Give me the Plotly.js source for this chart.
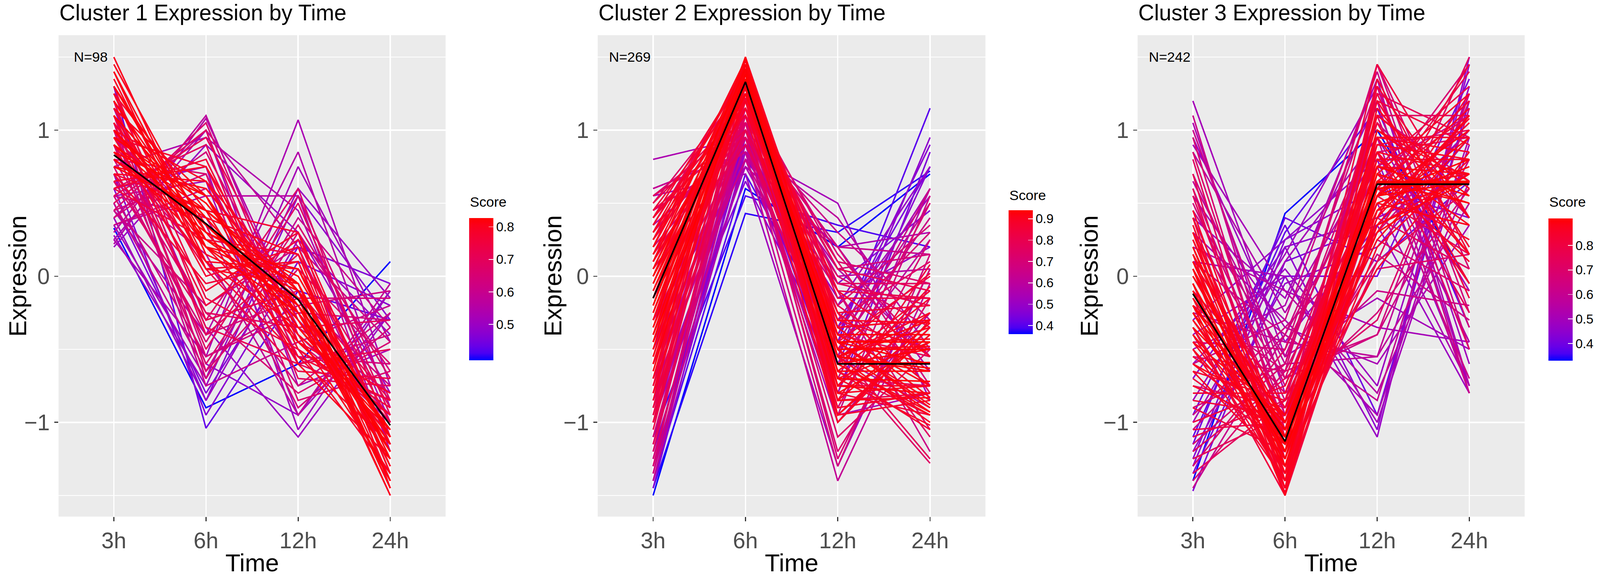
<!DOCTYPE html>
<html>
<head>
<meta charset="utf-8">
<script src="https://cdn.plot.ly/plotly-3.0.1.min.js"></script>
<style>html,body{margin:0;padding:0;background:#fff;overflow:hidden;}#chart{width:100vw;height:100vh;}</style>
</head>
<body>
<div id="chart"></div>
<script>
// ---------------- DATA ----------------
const times = ['3h', '6h', '12h', '24h'];
const clusterTitles = ['Cluster 1 Expression by Time', 'Cluster 2 Expression by Time', 'Cluster 3 Expression by Time'];
const clusterCounts = [98, 269, 242];

const c1_center = [0.83, 0.36, -0.16, -1.02];
const c1_expr = [
  [1.50, 0.15, -0.15, -1.50], [1.40, 0.20, -0.10, -1.45], [1.30, 0.25, -0.20, -1.40], [1.20, 0.30, -0.05, -1.45],
  [1.10, 0.40, -0.30, -1.25], [1.00, 0.35, -0.15, -1.20], [0.95, 0.50, -0.25, -1.20], [0.90, 0.45, -0.05, -1.30],
  [0.85, 0.55, -0.35, -1.05], [0.80, 0.30, 0.00, -1.10], [0.75, 0.60, -0.20, -1.15], [0.70, 0.65, -0.40, -0.95],
  [1.25, 0.05, 0.10, -1.40], [1.15, 0.00, 0.20, -1.35], [0.65, 0.75, -0.30, -1.10], [0.60, 0.80, -0.50, -0.90],
  [1.35, 0.10, -0.35, -1.10], [1.05, 0.20, -0.45, -0.80], [0.90, 0.10, -0.55, -0.85], [0.95, -0.10, 0.30, -1.15],
  [1.10, -0.20, 0.25, -1.15], [0.70, 0.45, 0.30, -1.45], [1.45, 0.30, -0.40, -1.35], [1.00, 0.65, -0.10, -1.50],
  [0.85, 0.20, 0.05, -1.10],
  [0.55, 0.95, -0.25, -1.00], [0.50, 1.00, -0.60, -0.85], [0.45, 1.05, -0.45, -0.95], [0.60, 0.90, -0.70, -0.75],
  [0.40, 0.85, -0.35, -0.80], [1.20, -0.40, 0.15, -0.90], [1.00, -0.50, 0.50, -0.95], [0.90, -0.60, 0.35, -0.70],
  [1.30, -0.30, -0.10, -0.85], [0.75, -0.45, 0.55, -0.85], [0.65, -0.30, 0.60, -1.10], [0.85, 0.10, -0.75, -0.25],
  [0.95, 0.35, -0.90, -0.35], [0.55, 0.40, -0.60, -0.40], [0.45, -0.20, 0.20, -0.45], [1.10, -0.55, -0.25, -0.30],
  [0.35, 0.60, -0.15, -0.75], [0.50, -0.65, 0.40, -0.35],
  [0.30, 1.10, -0.40, -1.00], [0.22, 1.08, -0.30, -0.95], [0.40, 1.00, 0.20, -1.15], [0.25, -0.55, 1.07, -0.75],
  [0.45, -0.40, 0.85, -0.90], [0.35, -0.70, 0.75, -0.45], [0.28, -0.75, 0.60, -0.15], [0.60, -0.85, 0.55, -0.30],
  [0.90, -0.60, -0.95, -0.10], [1.15, -0.35, -1.10, -0.25], [0.55, 0.65, -0.95, -0.25], [0.33, -0.90, -0.60, 0.10],
  [1.30, -1.04, -0.10, -0.30], [0.75, 0.95, 0.45, -1.00], [0.20, 0.90, 0.30, -0.80], [0.50, -0.80, 0.20, -0.05],
  [0.60, 0.75, -1.05, -0.10],
  [1.05, -0.35, -0.60, -0.50], [0.80, -0.25, -0.80, -0.45], [1.25, -0.15, -0.50, -0.95], [1.00, 0.05, -0.65, -0.70],
  [0.70, -0.05, 0.10, -1.30], [1.15, 0.55, -0.60, -1.25], [0.95, 0.75, -0.50, -1.35], [0.60, 0.25, 0.15, -1.00],
  [1.20, 0.20, -0.25, -1.15], [1.00, 0.25, -0.05, -1.20], [0.90, 0.35, -0.20, -1.05], [1.30, 0.35, -0.25, -1.40],
  [0.75, 0.45, -0.10, -1.10], [1.40, 0.05, -0.05, -1.40], [0.95, 0.55, -0.45, -1.05], [1.10, 0.10, 0.05, -1.25],
  [0.80, 0.40, 0.15, -1.35], [1.25, 0.45, -0.55, -1.15],
  [0.90, -0.25, -0.35, -0.30], [0.70, -0.40, -0.15, -0.15], [1.20, -0.65, 0.05, -0.60], [0.55, -0.55, -0.20, -0.10],
  [0.80, 0.70, -0.85, -0.65], [0.45, 0.70, -0.55, -0.60], [1.05, -0.70, 0.30, -0.65], [0.65, 0.15, -0.95, -0.05],
  [1.00, -0.75, -0.45, -0.20],
  [0.40, -0.85, 0.25, -0.40], [0.25, 1.00, -0.75, -0.50], [0.70, -0.95, 0.10, -0.20], [0.35, 0.55, 0.55, -1.20]
];
const c1_score = [
  0.80, 0.81, 0.82, 0.80, 0.82, 0.827, 0.82, 0.81, 0.82, 0.82, 0.80, 0.79, 0.78, 0.77, 0.78, 0.76, 0.79, 0.78, 0.76, 0.77,
  0.75, 0.77, 0.80, 0.79, 0.81,
  0.70, 0.68, 0.66, 0.69, 0.64, 0.70, 0.68, 0.66, 0.72, 0.65, 0.67, 0.63, 0.64, 0.62, 0.61, 0.63, 0.62, 0.60,
  0.57, 0.55, 0.58, 0.53, 0.55, 0.52, 0.50, 0.48, 0.49, 0.50, 0.52, 0.39, 0.43, 0.54, 0.50, 0.46, 0.51,
  0.71, 0.65, 0.74, 0.73, 0.76, 0.80, 0.77, 0.74,
  0.82, 0.82, 0.827, 0.81, 0.82, 0.80, 0.81, 0.80, 0.79, 0.78,
  0.69, 0.64, 0.66, 0.62, 0.66, 0.63, 0.64, 0.58, 0.60,
  0.50, 0.53, 0.47, 0.56
];

const c2_center = [-0.15, 1.33, -0.60, -0.60];
const c2_expr = [
  [-0.15, 1.34, -0.60, -0.59], [0.10, 1.45, -0.75, -0.80], [-0.40, 1.40, -0.50, -0.50], [0.30, 1.25, -0.80, -0.75],
  [-0.60, 1.48, -0.45, -0.43], [-0.85, 1.50, -0.35, -0.30], [0.05, 1.30, -0.45, -0.90], [-0.25, 1.42, -0.85, -0.32],
  [-0.30, 1.20, -0.55, -0.35], [0.20, 1.35, -0.55, -1.00], [-0.05, 1.40, -0.95, -0.40], [-1.00, 1.45, -0.25, -0.20],
  [0.40, 1.10, -0.75, -0.75], [-0.50, 1.30, -0.65, -0.15], [-0.70, 1.35, -0.10, -0.55], [0.15, 1.20, -1.00, -0.35],
  [-0.20, 1.50, -0.65, -0.65], [-0.10, 1.25, -0.40, -0.75], [0.25, 1.45, -0.65, -1.05], [-0.45, 1.45, -0.75, -0.25],
  [-0.35, 1.15, -0.30, -0.50], [0.00, 1.15, -0.70, -0.45], [-0.55, 1.40, -0.55, -0.30], [0.15, 1.40, -0.60, -0.95],
  [-0.75, 1.45, -0.60, -0.10], [0.35, 1.35, -0.90, -0.80], [-0.15, 1.48, -0.45, -0.88], [-0.95, 1.40, -0.45, 0.00],
  [0.45, 1.30, -0.80, -0.95], [-0.30, 1.30, -0.25, -0.75],
  [-1.20, 1.30, -0.05, -0.05], [-1.30, 1.25, 0.10, -0.05], [0.45, 1.00, -0.70, -0.75], [0.55, 0.95, -0.75, -0.75],
  [-0.90, 1.10, -0.30, 0.10], [-1.10, 1.15, -0.35, 0.30], [0.30, 1.05, -1.20, -0.15], [0.20, 0.95, -1.30, 0.15],
  [-0.60, 0.95, 0.00, -0.35], [-0.15, 1.00, -0.20, -0.65], [0.35, 1.40, -0.50, -1.25], [0.50, 1.30, -0.55, -1.28],
  [-0.80, 1.20, 0.15, -0.55], [-0.50, 1.05, 0.20, -0.75], [-1.40, 1.05, 0.20, 0.15], [0.60, 0.85, -1.40, -0.05],
  [-0.95, 0.90, -0.45, 0.50], [-0.70, 0.80, -0.50, 0.40], [0.05, 0.90, -0.40, -0.55],
  [0.80, 0.95, -0.95, -0.80], [-1.50, 0.60, 0.20, 0.70], [-1.45, 0.43, 0.30, 0.72], [-1.40, 0.70, -0.45, 1.15],
  [-1.30, 0.90, -0.35, 0.75], [-1.20, 0.80, -0.05, 0.45], [-1.35, 0.95, -0.55, 0.95], [-1.10, 0.55, 0.35, 0.20],
  [-0.90, 0.85, -0.15, 0.20], [-1.25, 1.00, -0.30, 0.55], [-0.50, 0.85, 0.50, -0.85], [-1.00, 0.75, -0.40, 0.60],
  [-0.45, 0.95, 0.05, -0.55], [-0.70, 1.05, -0.60, 0.25], [-1.15, 1.10, 0.00, 0.05], [0.35, 0.90, -1.00, -0.25],
  [-1.00, 0.95, -0.80, 0.85], [-0.30, 0.75, 0.20, -0.65], [-0.85, 0.65, -0.60, 0.75],
  [-0.65, 1.45, -0.40, -0.40], [-0.45, 1.35, -0.45, -0.45], [0.00, 1.42, -0.70, -0.72], [-0.20, 1.38, -0.55, -0.63],
  [-0.35, 1.45, -0.60, -0.50], [0.20, 1.48, -0.85, -0.83], [-0.80, 1.42, -0.30, -0.32], [-0.10, 1.35, -0.80, -0.45],
  [-0.25, 1.30, -0.45, -0.60], [0.25, 1.28, -0.60, -0.93], [-0.50, 1.48, -0.50, -0.48], [-0.05, 1.25, -0.55, -0.65],
  [0.40, 1.40, -0.95, -0.85], [-0.90, 1.38, -0.50, 0.02], [-0.60, 1.25, -0.35, -0.30], [-0.40, 1.22, -0.75, -0.07],
  [0.10, 1.20, -0.45, -0.85], [-0.15, 1.45, -1.00, -0.30], [-0.30, 1.48, -0.35, -0.83], [0.05, 1.38, -0.50, -0.93],
  [-0.70, 1.50, -0.55, -0.25], [0.30, 1.42, -0.70, -1.02], [-1.05, 1.35, -0.15, -0.15], [-0.55, 1.32, -0.85, 0.08],
  [0.00, 1.30, -0.95, -0.35],
  [-1.15, 1.20, 0.05, -0.10], [-1.00, 1.25, -0.10, -0.15], [0.50, 1.15, -0.85, -0.80], [0.40, 1.20, -0.65, -0.95],
  [-0.75, 1.00, -0.05, -0.20], [-0.40, 1.10, 0.10, -0.80], [0.25, 1.10, -0.25, -1.10], [0.15, 1.00, -0.10, -1.05],
  [-1.25, 1.10, -0.20, 0.35], [-0.85, 1.05, -0.70, 0.50], [0.55, 1.05, -1.10, -0.50], [-0.30, 0.95, -0.90, 0.25],
  [-1.35, 1.15, 0.05, 0.15], [-0.60, 1.00, -0.95, 0.55], [0.45, 0.85, -0.10, -1.20], [-1.00, 1.00, 0.30, -0.30],
  [0.10, 1.10, -1.25, 0.05], [-1.10, 1.05, -0.55, 0.60],
  [-1.30, 0.80, 0.20, 0.30], [-0.80, 0.90, 0.40, -0.50], [-0.60, 0.80, -0.80, 0.60], [0.60, 0.85, -0.55, -0.90],
  [-1.40, 0.85, -0.20, 0.75], [-1.45, 0.95, -0.40, 0.90], [0.55, 0.70, -1.30, 0.05]
];
const c2_score = [
  0.94, 0.92, 0.93, 0.90, 0.91, 0.88, 0.92, 0.91, 0.90, 0.89, 0.90, 0.85, 0.86, 0.87, 0.86, 0.88, 0.93, 0.91, 0.87, 0.89,
  0.85, 0.89, 0.92, 0.91, 0.86, 0.88, 0.90, 0.83, 0.85, 0.88,
  0.75, 0.72, 0.78, 0.76, 0.74, 0.70, 0.72, 0.68, 0.73, 0.80, 0.77, 0.74, 0.71, 0.69, 0.64, 0.62, 0.62, 0.66, 0.78,
  0.55, 0.36, 0.37, 0.40, 0.44, 0.46, 0.48, 0.39, 0.50, 0.52, 0.53, 0.55, 0.58, 0.60, 0.58, 0.57, 0.45, 0.56, 0.47,
  0.93, 0.94, 0.935, 0.94, 0.93, 0.91, 0.90, 0.92, 0.93, 0.90, 0.92, 0.93, 0.87, 0.84, 0.90, 0.86, 0.90, 0.88, 0.90, 0.91,
  0.89, 0.88, 0.82, 0.83, 0.88,
  0.78, 0.80, 0.80, 0.82, 0.76, 0.75, 0.74, 0.72, 0.70, 0.71, 0.73, 0.70, 0.69, 0.67, 0.66, 0.65, 0.70, 0.66,
  0.55, 0.60, 0.58, 0.62, 0.50, 0.47, 0.52
];

const c3_center = [-0.12, -1.13, 0.63, 0.63];
const c3_expr = [
  [-0.12, -1.14, 0.64, 0.64], [0.10, -1.30, 0.70, 0.50], [-0.35, -1.00, 0.55, 0.80], [0.30, -1.40, 0.45, 0.65],
  [-0.60, -0.95, 0.85, 0.70], [-0.20, -1.45, 1.00, 0.65], [0.20, -1.20, 0.30, 0.70], [-0.45, -1.25, 0.90, 0.80],
  [-0.80, -0.80, 0.80, 0.80], [0.05, -1.50, 0.75, 0.70], [-0.30, -1.10, 1.20, 0.20], [-0.15, -1.05, 0.25, 0.95],
  [-1.00, -0.75, 0.65, 1.10], [0.35, -1.35, 0.20, 0.80], [-0.05, -1.45, 1.35, 0.15], [-0.55, -1.00, 0.30, 1.25],
  [-0.25, -1.30, 0.55, 1.00], [0.00, -1.10, 0.95, 0.15], [-0.70, -1.15, 1.45, 0.40], [-0.40, -1.40, 0.60, 1.20],
  [0.15, -1.00, 0.50, 0.35], [-1.05, -1.00, 0.75, 1.30], [-0.90, -1.20, 1.20, 0.90], [0.25, -1.15, 0.05, 0.85],
  [-0.35, -1.50, 0.40, 1.45], [0.45, -1.30, 0.60, 0.25], [-0.65, -1.30, 0.70, 1.25], [0.10, -0.90, 0.85, -0.05],
  [-0.50, -1.20, 1.10, 0.60], [-0.10, -1.35, 0.35, 1.10],
  [0.80, -1.25, 0.40, 0.05], [0.95, -1.10, 0.25, -0.10], [0.60, -1.30, 0.10, 0.60], [1.10, -0.95, 0.15, -0.30],
  [-1.20, -0.70, 0.90, 1.00], [-1.30, -0.50, 0.85, 0.95], [-1.15, -0.60, 1.10, 0.65], [-0.45, -0.50, 1.30, -0.35],
  [-0.60, -0.30, 1.40, -0.50], [-0.20, -0.65, -0.40, 1.25], [0.10, -0.40, -0.85, 1.15], [-0.75, -0.90, 0.10, 1.50],
  [0.50, -0.85, -0.25, 0.60], [-0.95, -0.35, 0.30, 1.00], [0.70, -0.75, 0.75, -0.70], [0.40, -1.00, 1.10, -0.50],
  [-1.35, -0.85, 1.10, 1.10], [0.65, -0.60, -0.55, 0.50], [-1.45, -0.40, 0.75, 1.10],
  [1.20, -0.55, -0.15, -0.50], [1.05, -0.80, 0.50, -0.75], [0.95, -0.45, 0.35, -0.80], [-1.47, 0.10, 0.35, 1.00],
  [-1.40, 0.43, 1.00, -0.05], [-1.10, 0.30, 1.15, -0.35], [-0.70, 0.20, -1.05, 1.50], [-0.40, 0.00, -1.10, 1.45],
  [-0.95, 0.35, -0.95, 1.20], [0.20, -0.10, -0.80, 0.65], [-1.25, 0.25, 0.60, 0.40], [-0.85, 0.15, 1.30, -0.60],
  [-0.50, -0.20, 1.35, -0.75], [0.55, -0.35, -0.60, 0.35], [-1.20, -0.05, 0.20, 0.95], [-1.00, 0.10, 0.95, -0.10],
  [0.30, -0.30, -0.95, 0.95], [-1.35, 0.00, 0.00, 1.35], [0.85, -0.25, 0.85, -0.45],
  [-0.05, -1.20, 0.60, 0.65], [-0.25, -1.05, 0.65, 0.65], [0.05, -1.25, 0.55, 0.65], [-0.20, -1.10, 0.75, 0.55],
  [-0.10, -1.15, 0.50, 0.75], [0.20, -1.35, 0.80, 0.35], [-0.45, -0.95, 0.45, 0.95], [0.25, -1.25, 0.85, 0.15],
  [-0.60, -1.10, 0.55, 1.15], [0.15, -1.45, 0.60, 0.70], [-0.30, -1.20, 0.40, 1.10], [-0.15, -1.40, 1.15, 0.40],
  [0.00, -1.00, 0.35, 0.65], [-0.40, -1.15, 1.00, 0.55], [0.40, -1.45, 0.35, 0.70], [-0.75, -1.05, 0.95, 0.85],
  [-0.20, -0.95, 0.65, 0.50], [0.10, -1.20, 1.25, -0.15], [-0.50, -1.40, 0.95, 0.95], [-0.85, -0.95, 0.60, 1.20],
  [0.30, -1.10, 0.70, 0.10], [-0.35, -1.35, 1.30, 0.40], [-0.05, -1.48, 0.45, 1.08], [-0.65, -0.85, 0.45, 1.05],
  [0.05, -1.05, 1.05, -0.05],
  [0.70, -1.40, 0.55, 0.15], [0.55, -1.15, 0.85, -0.25], [-1.10, -0.85, 0.55, 1.40], [-1.25, -0.95, 1.25, 0.95],
  [0.85, -1.05, 0.05, 0.15], [-0.90, -0.60, 1.45, 0.05], [-0.10, -0.80, -0.30, 1.20], [0.30, -0.70, -0.40, 0.80],
  [-1.40, -0.65, 0.60, 1.45], [0.45, -0.55, 0.95, -0.80], [-0.25, -0.45, -0.55, 1.25], [1.00, -0.70, -0.10, -0.20],
  [-0.55, -0.65, 1.45, -0.25], [-1.05, -0.40, 1.05, 0.40], [0.60, -0.95, 1.20, -0.80],
  [0.90, -0.10, -0.35, -0.45], [-0.60, 0.05, -0.75, 1.30], [-1.15, 0.40, 0.10, 0.65], [0.40, -0.15, 1.20, -0.75],
  [-0.30, 0.25, 0.80, -0.75], [0.10, 0.00, -1.00, 0.90], [-1.30, 0.20, 0.40, 0.70]
];
const c3_score = [
  0.91, 0.90, 0.90, 0.88, 0.87, 0.86, 0.89, 0.86, 0.84, 0.88, 0.84, 0.87, 0.80, 0.85, 0.82, 0.82, 0.89, 0.86, 0.80, 0.83,
  0.88, 0.78, 0.80, 0.84, 0.81, 0.85, 0.85, 0.83, 0.87, 0.86,
  0.72, 0.68, 0.74, 0.62, 0.74, 0.70, 0.68, 0.66, 0.63, 0.65, 0.60, 0.72, 0.66, 0.64, 0.62, 0.70, 0.73, 0.58, 0.61,
  0.50, 0.52, 0.48, 0.42, 0.33, 0.38, 0.45, 0.47, 0.40, 0.55, 0.44, 0.49, 0.53, 0.51, 0.46, 0.50, 0.52, 0.41, 0.54,
  0.91, 0.905, 0.90, 0.91, 0.90, 0.88, 0.88, 0.86, 0.86, 0.87, 0.88, 0.87, 0.89, 0.89, 0.84, 0.85, 0.89, 0.80, 0.84, 0.82,
  0.85, 0.82, 0.84, 0.84, 0.82,
  0.76, 0.74, 0.76, 0.74, 0.70, 0.68, 0.70, 0.64, 0.68, 0.60, 0.58, 0.62, 0.66, 0.64, 0.62,
  0.50, 0.48, 0.40, 0.50, 0.46, 0.50, 0.45
];

const scoreTicks = [[0.5, 0.6, 0.7, 0.8], [0.4, 0.5, 0.6, 0.7, 0.8, 0.9], [0.4, 0.5, 0.6, 0.7, 0.8]];

// ---------------- COLOUR (ggplot-like Lab gradient blue -> red) ----------------
function lin(c){c/=255;return c<=0.04045?c/12.92:Math.pow((c+0.055)/1.055,2.4);}
function delin(v){v=v<=0.0031308?12.92*v:1.055*Math.pow(Math.max(v,0),1/2.4)-0.055;return Math.max(0,Math.min(255,Math.round(v*255)));}
const Xn=0.95047,Yn=1,Zn=1.08883;
function fL(t){return t>0.008856?Math.cbrt(t):7.787*t+16/116;}
function fLi(t){return t>0.206893?t*t*t:(t-16/116)/7.787;}
function toLab(rgb){const r=lin(rgb[0]),g=lin(rgb[1]),b=lin(rgb[2]);
  const X=(0.4124*r+0.3576*g+0.1805*b)/Xn,Y=(0.2126*r+0.7152*g+0.0722*b)/Yn,Z=(0.0193*r+0.1192*g+0.9505*b)/Zn;
  const fx=fL(X),fy=fL(Y),fz=fL(Z);return [116*fy-16,500*(fx-fy),200*(fy-fz)];}
function fromLab(l){const fy=(l[0]+16)/116,fx=fy+l[1]/500,fz=fy-l[2]/200;
  const X=fLi(fx)*Xn,Y=fLi(fy)*Yn,Z=fLi(fz)*Zn;
  const r=3.2406*X-1.5372*Y-0.4986*Z,g=-0.9689*X+1.8758*Y+0.0415*Z,b=0.0557*X-0.2040*Y+1.0570*Z;
  return 'rgb('+delin(r)+','+delin(g)+','+delin(b)+')';}
const LOW=toLab([0,0,255]),HIGH=toLab([255,0,0]);
function grad(t){t=Math.max(0,Math.min(1,t));return fromLab([0,1,2].map(i=>LOW[i]+(HIGH[i]-LOW[i])*t));}
const colorscale=[];for(let i=0;i<=20;i++){colorscale.push([i/20,grad(i/20)]);}

// ---------------- LAYOUT GEOMETRY (reference pixels, scaled to the viewport) ----------------
const W=4564,H=1474;
const VW=window.innerWidth||W, VH=window.innerHeight||H;
const sx=VW/W, sy=VH/H, fs=Math.min(sx,sy);
const FONT='Liberation Sans, Arial, Helvetica, sans-serif';
const panels=[
  {expr:c1_expr,score:c1_score,center:c1_center,x0:167,x1:1271,cbx:1338,cbtop:558,cblen:364,scoreY:517,ytitleX:50},
  {expr:c2_expr,score:c2_score,center:c2_center,x0:1705,x1:2811,cbx:2877,cbtop:538,cblen:317,scoreY:500,ytitleX:1577},
  {expr:c3_expr,score:c3_score,center:c3_center,x0:3245,x1:4349,cbx:4417,cbtop:559,cblen:364,scoreY:517,ytitleX:3106}
];
const PT=90,PB=1322;

const traces=[];
const layout={width:VW,height:VH,margin:{l:0,r:0,t:0,b:0},paper_bgcolor:'#FFFFFF',plot_bgcolor:'#EBEBEB',
  showlegend:false,annotations:[],font:{family:FONT}};

panels.forEach((p,k)=>{
  const sfx=k===0?'':String(k+1);
  const xa='x'+sfx,ya='y'+sfx;
  const cmin=Math.min(...p.score),cmax=Math.max(...p.score);
  const order=p.score.map((s,i)=>i).sort((a,b)=>p.score[a]-p.score[b]);
  order.forEach(i=>{
    traces.push({type:'scatter',mode:'lines',x:times,y:p.expr[i],xaxis:xa,yaxis:ya,
      line:{color:grad((p.score[i]-cmin)/(cmax-cmin)),width:4.2*fs},hoverinfo:'skip',showlegend:false});
  });
  traces.push({type:'scatter',mode:'lines',x:times,y:p.center,xaxis:xa,yaxis:ya,
    line:{color:'#000000',width:4.5*fs},hoverinfo:'skip',showlegend:false});
  traces.push({type:'scatter',mode:'markers',x:[times[0],times[0]],y:[0,0],xaxis:xa,yaxis:ya,hoverinfo:'skip',
    marker:{size:1,opacity:0,color:[cmin,cmax],cmin:cmin,cmax:cmax,colorscale:colorscale,showscale:true,
      colorbar:{x:p.cbx/W,xanchor:'left',xpad:0,y:1-p.cbtop/H,yanchor:'top',ypad:0,len:p.cblen/H,lenmode:'fraction',
        thickness:69*sx,thicknessmode:'pixels',outlinewidth:0,tickmode:'array',tickvals:scoreTicks[k],
        ticks:'inside',ticklen:13*sx,tickwidth:2*fs,tickcolor:'#FFFFFF',
        tickfont:{family:FONT,size:37*fs,color:'#000000'},title:{text:''}}}});

  layout['xaxis'+sfx]={domain:[p.x0/W,p.x1/W],anchor:ya,type:'category',categoryorder:'array',categoryarray:times,
    range:[-0.6,3.6],fixedrange:true,showgrid:true,gridcolor:'#FFFFFF',gridwidth:4*fs,zeroline:false,showline:false,
    ticks:'outside',ticklen:11*sy,tickwidth:3*fs,tickcolor:'#333333',tickfont:{family:FONT,size:64*fs,color:'#4D4D4D'}};
  layout['yaxis'+sfx]={domain:[1-PB/H,1-PT/H],anchor:xa,range:[-1.645,1.65],fixedrange:true,
    tickmode:'array',tickvals:[-1,0,1],showgrid:true,gridcolor:'#FFFFFF',gridwidth:4*fs,zeroline:false,showline:false,
    ticks:'outside',ticklen:11*sx,tickwidth:3*fs,tickcolor:'#333333',tickfont:{family:FONT,size:64*fs,color:'#4D4D4D'},
    minor:{tickmode:'array',tickvals:[-1.5,-0.5,0.5,1.5],showgrid:true,gridcolor:'#FFFFFF',gridwidth:2*fs,ticks:''}};

  const A=layout.annotations;
  A.push({text:clusterTitles[k],xref:'paper',yref:'paper',x:p.x0/W,xanchor:'left',y:1-33/H,yanchor:'middle',
    showarrow:false,font:{family:FONT,size:63*fs,color:'#000000'}});
  A.push({text:'N='+clusterCounts[k],xref:xa,yref:ya,x:-0.25,y:1.5,xanchor:'center',yanchor:'middle',
    showarrow:false,font:{family:FONT,size:40*fs,color:'#000000'}});
  A.push({text:'Time',xref:'paper',yref:'paper',x:(p.x0+p.x1)/2/W,xanchor:'center',y:1-1440/H,yanchor:'middle',
    showarrow:false,font:{family:FONT,size:70*fs,color:'#000000'}});
  A.push({text:'Expression',xref:'paper',yref:'paper',x:p.ytitleX/W,xanchor:'center',y:1-(PT+PB)/2/H,yanchor:'middle',
    textangle:-90,showarrow:false,font:{family:FONT,size:70*fs,color:'#000000'}});
  A.push({text:'Score',xref:'paper',yref:'paper',x:p.cbx/W,xanchor:'left',y:1-p.scoreY/H,yanchor:'middle',
    showarrow:false,font:{family:FONT,size:40*fs,color:'#000000'}});
});

Plotly.newPlot('chart',traces,layout,{staticPlot:true,displayModeBar:false});
</script>
</body>
</html>
